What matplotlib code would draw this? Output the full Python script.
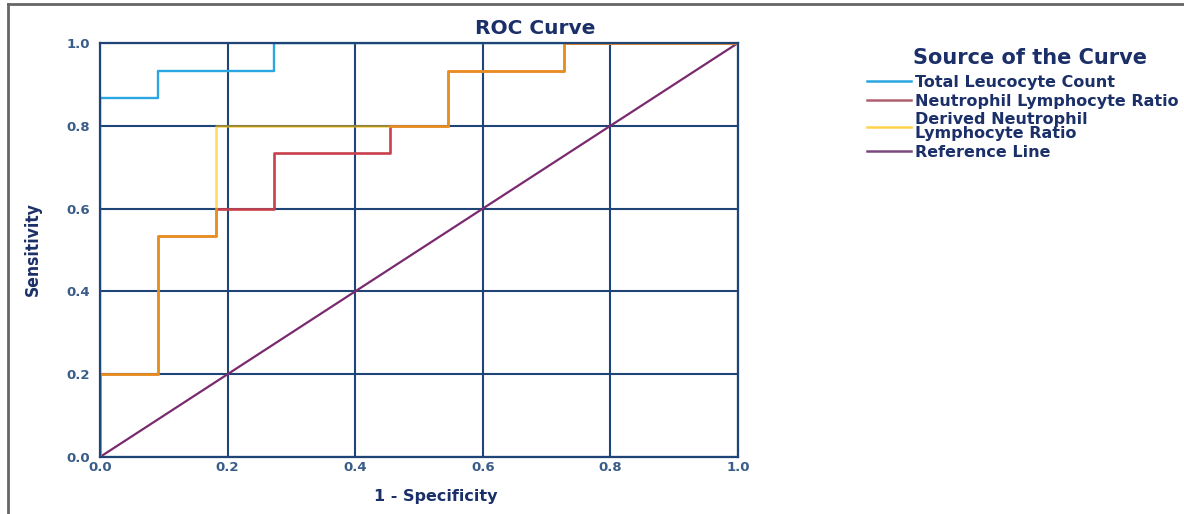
import matplotlib
matplotlib.use("Agg")
import matplotlib.pyplot as plt
from matplotlib.lines import Line2D

# ROC data (1 - specificity, sensitivity)
tlc_fpr = [0.0, 0.0, 0.0909, 0.0909, 0.2727, 0.2727, 1.0]
tlc_tpr = [0.0, 0.8667, 0.8667, 0.9333, 0.9333, 1.0, 1.0]

nlr_fpr = [0.0, 0.0, 0.0909, 0.0909, 0.1818, 0.1818, 0.2727, 0.2727, 0.4545, 0.4545,
           0.5455, 0.5455, 0.7273, 0.7273, 1.0]
nlr_tpr = [0.0, 0.2, 0.2, 0.5333, 0.5333, 0.6, 0.6, 0.7333, 0.7333, 0.8,
           0.8, 0.9333, 0.9333, 1.0, 1.0]

dnlr_fpr = [0.0, 0.0, 0.0909, 0.0909, 0.1818, 0.1818, 0.5455, 0.5455, 0.7273, 0.7273, 1.0]
dnlr_tpr = [0.0, 0.2, 0.2, 0.5333, 0.5333, 0.8, 0.8, 0.9333, 0.9333, 1.0, 1.0]

ref_x = [0.0, 1.0]
ref_y = [0.0, 1.0]

ticks = [0.0, 0.2, 0.4, 0.6, 0.8, 1.0]
tick_labels = ["0.0", "0.2", "0.4", "0.6", "0.8", "1.0"]

NAVY = "#1f4577"
TEXT = "#1b2f68"
FONT = ["DejaVu Sans"]

fig = plt.figure(figsize=(11.84, 5.14), dpi=100)
ax = fig.add_axes([100/1184, 1 - 457/514, 638/1184, 414/514])

ax.set_xlim(0, 1)
ax.set_ylim(0, 1)
ax.set_xticks(ticks)
ax.set_yticks(ticks)
ax.set_xticklabels(tick_labels, family=FONT, fontweight="bold", fontsize=9.5, color="#3a5c88")
ax.set_yticklabels(tick_labels, family=FONT, fontweight="bold", fontsize=9.5, color="#3a5c88")
ax.tick_params(axis="x", length=0, pad=3)
ax.tick_params(axis="y", length=0, pad=7)
ax.grid(True, color=NAVY, linewidth=1.5, zorder=1)
ax.set_axisbelow(True)
for s in ax.spines.values():
    s.set_color(NAVY)
    s.set_linewidth(1.6)
    s.set_zorder(10)

ax.plot(ref_x, ref_y, color="#7a2a6e", linewidth=1.6, zorder=3)
ax.plot(tlc_fpr, tlc_tpr, color="#2aa6e0", linewidth=1.7, zorder=4)
ax.plot(nlr_fpr, nlr_tpr, color="#c8404c", linewidth=1.9, zorder=5)
ax.plot(dnlr_fpr, dnlr_tpr, color="#ffc400", alpha=0.6, linewidth=1.9, zorder=6)

fig.text(535/1184, 1 - 29/514, "ROC Curve", family=FONT, fontweight="bold",
         fontsize=14.5, color=TEXT, ha="center", va="center")
fig.text(436/1184, 1 - 497/514, "1 - Specificity", family=FONT, fontweight="bold",
         fontsize=11.5, color=TEXT, ha="center", va="center")
fig.text(33/1184, 1 - 249/514, "Sensitivity", family="DejaVu Sans", fontstretch="condensed",
         fontweight="bold", fontsize=12.5, color=TEXT, ha="center", va="center", rotation=90)

# legend
fig.text(1030/1184, 1 - 58/514, "Source of the Curve", family=FONT, fontweight="bold",
         fontsize=15, color=TEXT, ha="center", va="center")
handles = [
    Line2D([], [], color="#2aa6e0", linewidth=1.8),
    Line2D([], [], color="#b0606e", linewidth=1.8),
    Line2D([], [], color="#ffd24a", linewidth=1.8),
    Line2D([], [], color="#7a4a7e", linewidth=1.8),
]
labels = ["Total Leucocyte Count", "Neutrophil Lymphocyte Ratio",
          "Derived Neutrophil\nLymphocyte Ratio", "Reference Line"]
leg = fig.legend(handles, labels, loc="upper left", bbox_to_anchor=(867/1184, 1 - 75/514),
                 frameon=False,
                 prop={"family": FONT, "weight": "bold", "size": 11.5},
                 handlelength=2.75, handletextpad=0.25, labelspacing=0.22, borderaxespad=0,
                 borderpad=0)
for t in leg.get_texts():
    t.set_color(TEXT)
    t.set_linespacing(0.95)

# outer frame (top and left)
fig.add_artist(Line2D([8/1184, 8/1184], [0, 1 - 4/514], transform=fig.transFigure,
                      color="#666666", linewidth=2))
fig.add_artist(Line2D([8/1184, 1], [1 - 4/514, 1 - 4/514], transform=fig.transFigure,
                      color="#666666", linewidth=2))

fig.savefig("out.png", dpi=100, facecolor="white")
